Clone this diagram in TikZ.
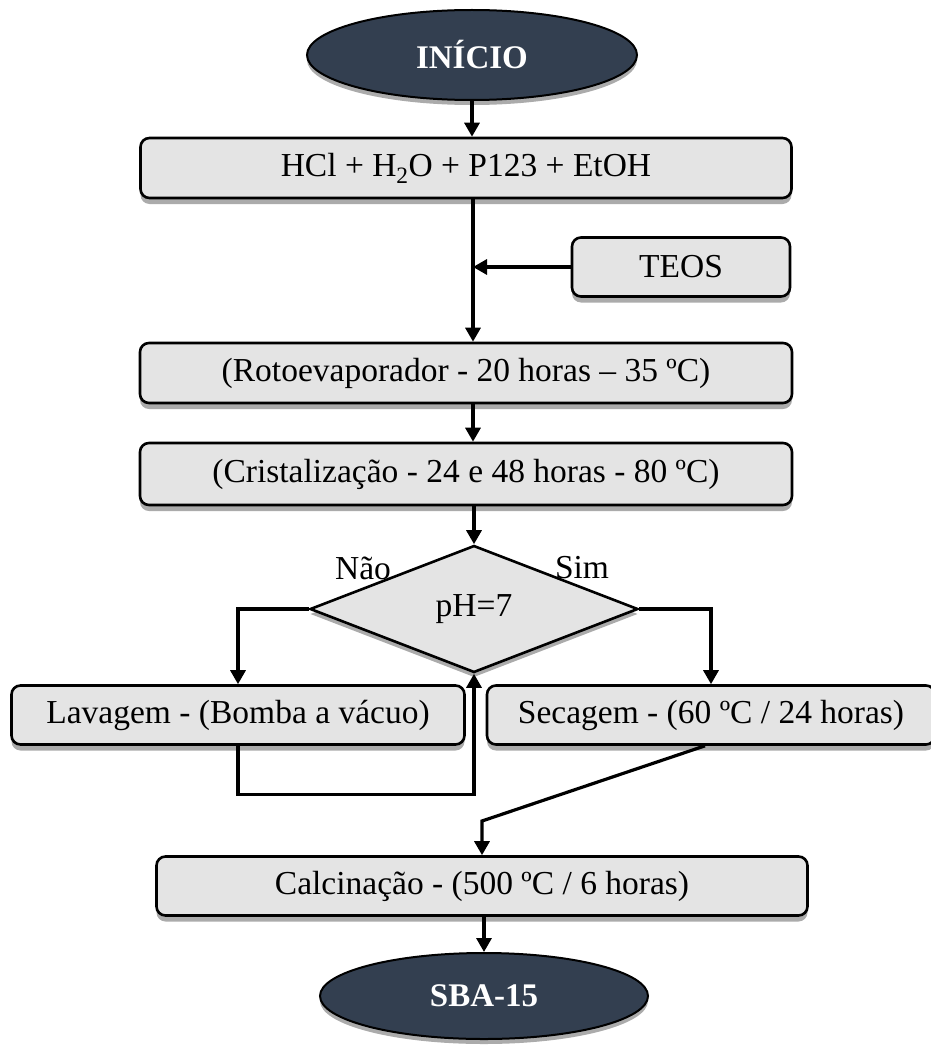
\documentclass[tikz,border=0pt]{standalone}
\usepackage{fontspec}
\setmainfont{Liberation Serif}
\usepackage{tikz}
\usetikzlibrary{shapes.geometric,shadows,arrows.meta,calc}
\definecolor{navy}{HTML}{333F50}
\definecolor{boxgray}{HTML}{E4E4E4}

\begin{document}
\begin{tikzpicture}[x=1pt,y=-1pt,
	every node/.style={font=\fontsize{33.5}{40}\selectfont},
	proc/.style={draw,rounded corners=9pt,fill=boxgray,line width=2.6pt,minimum height=60pt,
		drop shadow={shadow xshift=0pt,shadow yshift=-6pt,fill=black!33,opacity=1}},
	term/.style={draw,ellipse,fill=navy,line width=2pt,text=white,font=\fontsize{33}{40}\selectfont\bfseries,
		drop shadow={shadow xshift=0pt,shadow yshift=-5pt,fill=black!33,opacity=1}},
	decis/.style={draw,diamond,aspect=2.6,fill=boxgray,line width=2.6pt,inner sep=0pt,
		drop shadow={shadow xshift=0pt,shadow yshift=-5pt,fill=black!33,opacity=1}},
	flow/.style={line width=3.2pt,-{Triangle[length=14pt,width=15pt]}}]
	\useasboundingbox (0,0) rectangle (930,1046);
	%start and mixture
	\node[term,minimum width=330pt,minimum height=90pt] (inicio) at (472,55) {INÍCIO};
	\node[proc,minimum width=651pt] (mix) at (466,168) {HCl + H\textsubscript{2}O + P123 + EtOH};
	\node[proc,minimum width=218pt,minimum height=59pt] (teos) at (681,267) {TEOS};
	%% main column
	\node[proc,minimum width=652pt] (roto) at (466,373) {(Rotoevaporador - 20 horas – 35 ºC)};
	\node[proc,minimum width=652pt,minimum height=62pt] (crist) at (466,474) {(Cristalização - 24 e 48 horas - 80 ºC)};
	\node[decis,minimum width=328pt,minimum height=127pt] (ph) at (474,609) {pH=7};
	\node (nao) at (363,568) {Não};
	\node (sim) at (582,568) {Sim};
	\node[proc,minimum width=453pt,minimum height=59pt] (lav) at (238,715) {Lavagem - (Bomba a vácuo)};
	\node[proc,minimum width=448pt,minimum height=59pt] (sec) at (711,715) {Secagem - (60 ºC / 24 horas)};
	\node[proc,minimum width=651pt,minimum height=59pt] (calc) at (482,886) {Calcinação - (500 ºC / 6 horas)};
	\node[term,minimum width=328pt,minimum height=86pt] (sba) at (484,996) {SBA-15};
	\coordinate (join) at (473,267);
	\coordinate (bend) at (482,821);
	%% connectors
	\draw[flow] (inicio.south) -- (inicio.south |- mix.north);
	\draw[flow] (mix.south -| join) -- (join |- roto.north);
	\draw[flow] (teos.west) -- (join);
	\draw[flow] (roto.south -| join) -- (join |- crist.north);
	\draw[flow] (crist.south -| ph.north) -- (ph.north);
	\draw[flow] (ph.west) -| (lav.north);
	\draw[flow] (ph.east) -| (sec.north);
	\draw[flow] (lav.south) -- ++(0,49) -| (ph.south);
	\draw[flow] ([xshift=-6pt]sec.south) -- (bend) -- (bend |- calc.north);
	\draw[flow] (calc.south -| sba.north) -- (sba.north);
\end{tikzpicture}
\end{document}
